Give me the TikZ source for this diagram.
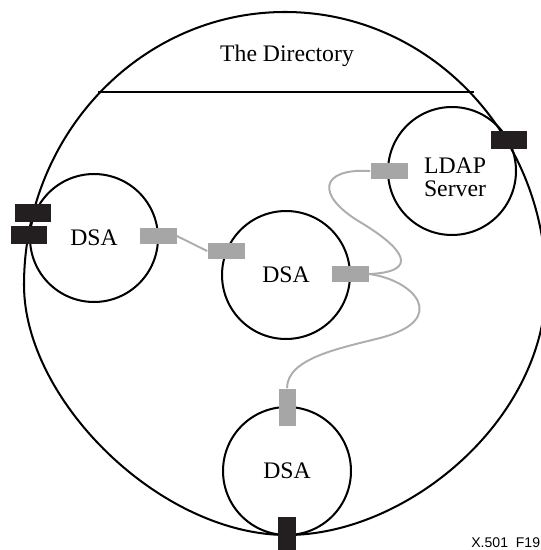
\documentclass[tikz,border=0pt]{standalone}
\usepackage{fontspec}
\setmainfont{Liberation Serif}
\newfontfamily\figfont{Liberation Sans}
\definecolor{portgrey}{HTML}{A6A6A6}
\definecolor{wiregrey}{HTML}{ADADAD}
\definecolor{portblack}{HTML}{231F20}

\begin{document}
\begin{tikzpicture}[x=0.02cm, y=-0.02cm,
     agent/.style={draw, circle, line width=1.15pt, minimum size=2.56cm, inner sep=0pt,
                   font=\fontsize{13.5}{13}\selectfont},
     greyport/.style={fill=portgrey, minimum width=0.74cm, minimum height=0.34cm, inner sep=0pt},
     blackport/.style={fill=portblack, minimum width=0.72cm, minimum height=0.35cm, inner sep=0pt},
     wire/.style={draw=wiregrey, line width=1.1pt}]

     \useasboundingbox (0, 0) rectangle (540, 550);

     % the directory
     \draw [line width=1.15pt] (285, 12) .. controls (141, 12) and (24, 134) .. (24, 285)
                                         .. controls (24, 400) and (160, 535) .. (287, 535)
                                         .. controls (407, 535) and (546, 420) .. (546, 285)
                                         .. controls (546, 134) and (429, 12) .. cycle;
     \coordinate (lineL) at (98, 92);
     \coordinate (lineR) at (474, 92);
     \draw [line width=1.4pt] (lineL) -- (lineR);
     \node (dir) at (287, 56) [font=\fontsize{13.5}{13}\selectfont] {The Directory};

     \node (dsaA) at (94, 238) [agent] {DSA};
     \node (dsaB) at (286, 275) [agent] {DSA};
     \node (dsaC) at (287, 471) [agent] {DSA};
     \node (ldap) at (452, 171) [agent] {};
     \node (ldaptext) at (455, 177) [font=\fontsize{13.5}{13}\selectfont, align=center] {LDAP\\Server};

     \node (gA) at (158, 236) [greyport] {};
     \node (gB1) at (226, 251) [greyport] {};
     \node (gB2) at (350, 274) [greyport] {};
     \node (gL) at (389, 171) [greyport] {};
     \node (gC) at (287, 407) [greyport, rotate=90] {};

     \draw [wire] (gA.east) -- (gB1.west);
     \draw [wire] (gL.west) .. controls (320, 168) and (315, 195) .. (360, 222)
                            .. controls (405, 249) and (420, 272) .. (gB2.east);
     \draw [wire] (gB2.east) .. controls (415, 280) and (450, 320) .. (380, 338)
                             .. controls (341, 348) and (287, 358) .. (gC.east);

     \node (bA1) at (33, 213) [blackport] {};
     \node (bA2) at (29, 235) [blackport] {};
     \node (bL) at (509, 140) [blackport] {};
     \node (bC) at (287, 535) [blackport, rotate=90] {};

     \node (fig) at (471, 547) [anchor=base west, inner sep=0pt, font=\figfont\fontsize{8}{9.6}\selectfont] {X.501\ \ F19};

\end{tikzpicture}
\end{document}
